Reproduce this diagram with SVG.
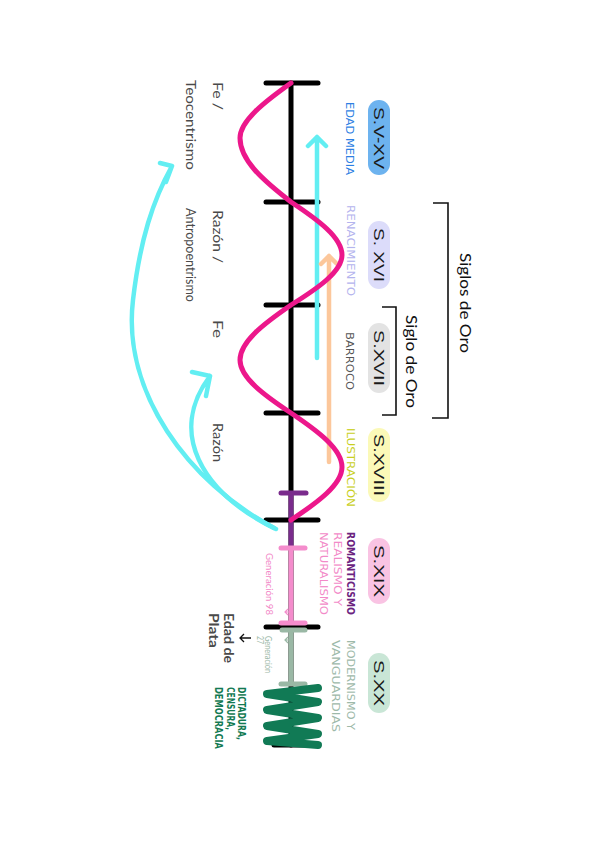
<svg xmlns="http://www.w3.org/2000/svg" width="600" height="848" viewBox="0 0 600 848">
<style>
.bg{fill:#ffffff}
.axis{stroke:#000;stroke-width:5;fill:none;stroke-linecap:round}
.tick{stroke:#000;stroke-width:5;stroke-linecap:round}
.cap{font-family:"DejaVu Sans Condensed","DejaVu Sans",sans-serif;font-size:11px;dominant-baseline:central}
.pill{font-family:"Liberation Sans",Arial,sans-serif;font-size:15px;fill:#1a1a1a;dominant-baseline:central}
.hand{font-family:"Lato","Open Sans",sans-serif;font-size:12.5px;fill:#4a4a4a;dominant-baseline:central}
.oro{font-family:"Lato","Open Sans",sans-serif;font-size:15px;fill:#111;dominant-baseline:central}
.gen{font-family:"Lato","Open Sans",sans-serif;font-size:9.5px;dominant-baseline:central}
.bracket{stroke:#111;stroke-width:1.6;fill:none}
.cyan{stroke:#62eef2;stroke-width:4.5;fill:none;stroke-linecap:round;stroke-linejoin:round}
.orange{stroke:#fcc79b;stroke-width:4.5;fill:none;stroke-linecap:round;stroke-linejoin:round}
</style>
<rect class="bg" x="0" y="0" width="600" height="848"/>

<g id="timeline-axis">
  <line class="axis" x1="291" y1="83" x2="291" y2="745"/>
  <line class="tick" x1="266" y1="83" x2="318" y2="83"/>
  <line class="tick" x1="266" y1="202" x2="318" y2="202"/>
  <line class="tick" x1="266" y1="305" x2="318" y2="305"/>
  <line class="tick" x1="266" y1="413" x2="318" y2="413"/>
  <line class="tick" x1="266" y1="520" x2="318" y2="520"/>
  <line class="tick" x1="266" y1="627" x2="318" y2="627"/>
  <line class="tick" x1="274" y1="745" x2="318" y2="745"/>
</g>

<g id="segment-xix">
  <line x1="291" y1="493" x2="291" y2="548" stroke="#7a2b8c" stroke-width="5"/>
  <line x1="281" y1="493" x2="306" y2="493" stroke="#7a2b8c" stroke-width="5" stroke-linecap="round"/>
  <line x1="291" y1="548" x2="291" y2="624" stroke="#f48ccc" stroke-width="5"/>
  <line x1="281" y1="548" x2="305" y2="548" stroke="#f48ccc" stroke-width="5" stroke-linecap="round"/>
  <line x1="281" y1="623" x2="305" y2="623" stroke="#f48ccc" stroke-width="5" stroke-linecap="round"/>
  <path d="M293 612 H285 M288 609 L285 612 L288 615" stroke="#f48ccc" stroke-width="1.2" fill="none"/>
</g>

<g id="segment-xx">
  <line x1="291" y1="630" x2="291" y2="684" stroke="#9ab8a5" stroke-width="5"/>
  <line x1="282" y1="630" x2="305" y2="630" stroke="#9ab8a5" stroke-width="5" stroke-linecap="round"/>
  <line x1="281" y1="684" x2="305" y2="684" stroke="#9ab8a5" stroke-width="5" stroke-linecap="round"/>
  <path d="M293 640 H285 M288 637 L285 640 L288 643" stroke="#9ab8a5" stroke-width="1.2" fill="none"/>
  <polyline points="318,688 267,694 318,702 267,710 318,718 267,726 318,734 267,741 318,745" fill="none" stroke="#117a55" stroke-width="8" stroke-linejoin="round" stroke-linecap="round"/>
</g>

<g id="connectors">
  <path class="cyan" d="M317 358 V137 M308 146 L317 137 L326 146"/>
  <path class="orange" d="M329 462 V256 M321 264 L329 256 L337 264"/>
  <path d="M291 83 C264.3 102 240 121 240 138 C240 160.7 264.3 181.3 291 202 C317.7 219.7 342 237.3 342 255 C342 271.7 317.7 288.3 291 305 C264.3 323.3 240 341.7 240 360 C240 377.7 264.3 395.3 291 413 C317.7 431 342 449 342 467 C342 484.7 317.7 502.3 291 520" fill="none" stroke="#ec178b" stroke-width="5" stroke-linecap="round"/>
  <path class="cyan" d="M274 528 C188 482 122 392 133 300 C140 240 153 200 172 166 M160 163 L172 166 L166 182"/>
  <path class="cyan" d="M276 529 C200 492 168 432 210 376 M192 372 L210 376 L206 396"/>
</g>

<g id="pill-svxv">
  <rect x="368" y="100" width="22" height="75" rx="11" fill="#6db3ef"/>
  <text class="pill" transform="translate(379,107) rotate(90)" textLength="62" lengthAdjust="spacingAndGlyphs">S.V-XV</text>
</g>
<g id="pill-sxvi">
  <rect x="368" y="221" width="22" height="68" rx="11" fill="#dcdcfa"/>
  <text class="pill" transform="translate(379,228) rotate(90)" textLength="54" lengthAdjust="spacingAndGlyphs">S. XVI</text>
</g>
<g id="pill-sxvii">
  <rect x="368" y="323" width="22" height="70" rx="11" fill="#e3e3e3"/>
  <text class="pill" transform="translate(379,330) rotate(90)" textLength="56" lengthAdjust="spacingAndGlyphs">S.XVII</text>
</g>
<g id="pill-sxviii">
  <rect x="368" y="428" width="22" height="74" rx="11" fill="#fbf9b8"/>
  <text class="pill" transform="translate(379,434) rotate(90)" textLength="62" lengthAdjust="spacingAndGlyphs">S.XVIII</text>
</g>
<g id="pill-sxix">
  <rect x="368" y="538" width="22" height="66" rx="11" fill="#f9c3e3"/>
  <text class="pill" transform="translate(379,545) rotate(90)" textLength="52" lengthAdjust="spacingAndGlyphs">S.XIX</text>
</g>
<g id="pill-sxx">
  <rect x="368" y="653" width="22" height="60" rx="11" fill="#c9e6d6"/>
  <text class="pill" transform="translate(379,660) rotate(90)" textLength="46" lengthAdjust="spacingAndGlyphs">S.XX</text>
</g>

<g id="labels-periods">
  <text class="cap" fill="#2e7fe3" transform="translate(349,102) rotate(90)" textLength="73" lengthAdjust="spacingAndGlyphs">EDAD MEDIA</text>
  <text class="cap" fill="#b4b4ee" transform="translate(350,205) rotate(90)" textLength="91" lengthAdjust="spacingAndGlyphs">RENACIMIENTO</text>
  <text class="cap" fill="#555555" font-size="12" transform="translate(349,332) rotate(90)" textLength="58" lengthAdjust="spacingAndGlyphs">BARROCO</text>
  <text class="cap" fill="#c9cf1e" transform="translate(350,428) rotate(90)" textLength="79" lengthAdjust="spacingAndGlyphs">ILUSTRACIÓN</text>
  <text class="cap" fill="#6b2380" font-weight="bold" transform="translate(350,532) rotate(90)" textLength="83" lengthAdjust="spacingAndGlyphs">ROMANTICISMO</text>
  <text class="cap" fill="#f28ac8" transform="translate(337,532) rotate(90)" textLength="74" lengthAdjust="spacingAndGlyphs">REALISMO  Y</text>
  <text class="cap" fill="#f28ac8" transform="translate(323,532) rotate(90)" textLength="83" lengthAdjust="spacingAndGlyphs">NATURALISMO</text>
  <text class="cap" fill="#9db9a9" transform="translate(350,640) rotate(90)" textLength="90" lengthAdjust="spacingAndGlyphs">MODERNISMO Y</text>
  <text class="cap" fill="#9db9a9" transform="translate(335,640) rotate(90)" textLength="92" lengthAdjust="spacingAndGlyphs">VANGUARDIAS</text>
</g>

<g id="labels-xx-politics">
  <text class="cap" fill="#137a52" font-weight="bold" font-size="9" transform="translate(241,687) rotate(90)" textLength="53" lengthAdjust="spacingAndGlyphs">DICTADURA,</text>
  <text class="cap" fill="#137a52" font-weight="bold" font-size="9" transform="translate(230,687) rotate(90)" textLength="43" lengthAdjust="spacingAndGlyphs">CENSURA,</text>
  <text class="cap" fill="#137a52" font-weight="bold" font-size="9" transform="translate(218,687) rotate(90)" textLength="62" lengthAdjust="spacingAndGlyphs">DEMOCRACIA</text>
</g>

<g id="labels-generaciones">
  <text class="gen" fill="#f28ac8" transform="translate(269,553) rotate(90)" textLength="62" lengthAdjust="spacingAndGlyphs">Generación 98</text>
  <text class="gen" fill="#9db9a9" transform="translate(268,636) rotate(90)" textLength="37" lengthAdjust="spacingAndGlyphs">Generación</text>
  <text class="gen" fill="#9db9a9" transform="translate(260,636) rotate(90)" textLength="8" lengthAdjust="spacingAndGlyphs">27</text>
</g>

<g id="edad-de-plata">
  <path d="M251 638 H240 M244 634 L240 638 L244 642" stroke="#111" stroke-width="1.3" fill="none"/>
  <text class="hand" fill="#111" font-weight="bold" font-size="13" transform="translate(228,613) rotate(90)" textLength="50" lengthAdjust="spacingAndGlyphs">Edad de</text>
  <text class="hand" fill="#111" font-weight="bold" font-size="13" transform="translate(213,613) rotate(90)" textLength="35" lengthAdjust="spacingAndGlyphs">Plata</text>
</g>

<g id="labels-fe-razon">
  <text class="hand" transform="translate(217,82) rotate(90)" textLength="28" lengthAdjust="spacingAndGlyphs">Fe /</text>
  <text class="hand" transform="translate(190,80) rotate(90)" textLength="90" lengthAdjust="spacingAndGlyphs">Teocentrismo</text>
  <text class="hand" transform="translate(217,210) rotate(90)" textLength="53" lengthAdjust="spacingAndGlyphs">Razón /</text>
  <text class="hand" transform="translate(190,208) rotate(90)" textLength="94" lengthAdjust="spacingAndGlyphs">Antropoentrismo</text>
  <text class="hand" transform="translate(217,320) rotate(90)" textLength="18" lengthAdjust="spacingAndGlyphs">Fe</text>
  <text class="hand" transform="translate(217,423) rotate(90)" textLength="39" lengthAdjust="spacingAndGlyphs">Razón</text>
</g>

<g id="siglos-de-oro">
  <path class="bracket" d="M433 203 H448 V418 H432"/>
  <text class="oro" transform="translate(466,253) rotate(90)" textLength="100" lengthAdjust="spacingAndGlyphs">Siglos de Oro</text>
</g>
<g id="siglo-de-oro">
  <path class="bracket" d="M382 307 H396 V415 H382"/>
  <text class="oro" transform="translate(412,315) rotate(90)" textLength="93" lengthAdjust="spacingAndGlyphs">Siglo de Oro</text>
</g>
</svg>
